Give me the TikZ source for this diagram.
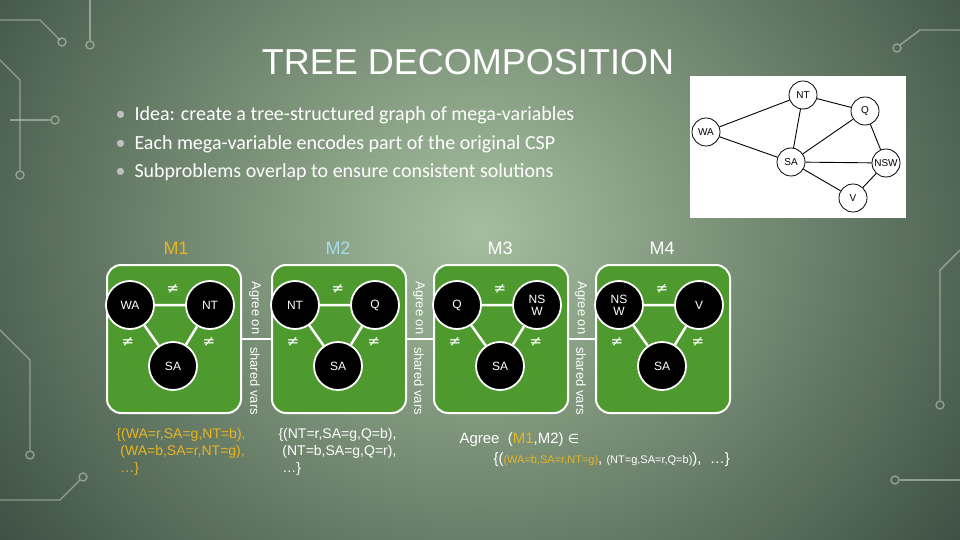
\documentclass[tikz,border=0pt]{standalone}
\usepackage{fontspec}
\setmainfont{Liberation Sans}
\newfontfamily\carlitof{Carlito}
\newfontfamily\dejavuf{DejaVu Sans}
\usetikzlibrary{shadings}
\definecolor{boxg}{HTML}{4E9A2E}
\definecolor{mone}{HTML}{E8B422}
\definecolor{mtwo}{HTML}{A8DCEC}
\tikzset{
 mbox/.style={draw=white,line width=2pt,fill=boxg,rounded corners=14pt},
 var/.style={circle,draw=white,line width=1.8pt,fill=black,minimum size=48pt,inner sep=0pt,text=white,font=\fontsize{12}{12}\selectfont,align=center},
 cedge/.style={white,line width=2.5pt},
 neq/.style={text=white,font=\dejavuf\fontsize{15}{15}\selectfont},
 vlab/.style={text=white,rotate=-90,font=\fontsize{13}{13}\selectfont},
 mlab/.style={font=\fontsize{18}{18}\selectfont},
 bul/.style={anchor=west,text=white,font=\carlitof\fontsize{20}{20}\selectfont},
 gnode/.style={circle,draw=black,line width=0.8pt,fill=white,minimum size=28pt,inner sep=0pt,font=\fontsize{10}{10}\selectfont},
 gedge/.style={black,line width=0.9pt},
}
\begin{document}
\begin{tikzpicture}[x=1pt,y=-1pt]
\useasboundingbox (0,0) rectangle (960,540);
\begin{scope}
\clip (0,0) rectangle (960,540);
\shade[inner color={rgb,255:red,165;green,190;blue,158},outer color={rgb,255:red,38;green,56;blue,46}] (-250,-420) rectangle (1210,880);
\begin{scope}[draw={rgb,255:red,200;green,212;blue,195},line width=1.4pt,opacity=0.55]
\draw (0,20) -- (40,20) -- (60,40); \draw (62,42) circle (4);
\draw (0,60) -- (20,80) -- (20,170); \draw (20,175) circle (4);
\draw (10,120) -- (50,120); \draw (55,120) circle (4);
\draw (0,330) -- (30,360) -- (30,450); \draw (30,455) circle (4);
\draw (0,500) -- (60,500) -- (80,480); \draw (83,477) circle (4);
\draw (960,30) -- (920,30) -- (900,45); \draw (897,48) circle (4);
\draw (960,250) -- (940,270) -- (940,400); \draw (940,405) circle (4);
\draw (960,480) -- (900,480); \draw (895,480) circle (4);
\draw (90,0) -- (90,40); \draw (90,45) circle (4);
\end{scope}
\end{scope}
% title
\node[text=white,font=\fontsize{36}{36}\selectfont] (title) at (468,62) {TREE DECOMPOSITION};
\node[bul] (b1) at (112,115) {{\color{white!75!black}\textbullet}\ \ Idea: create a tree-structured graph of mega-variables};
\node[bul] (b2) at (112,144) {{\color{white!75!black}\textbullet}\ \ Each mega-variable encodes part of the original CSP};
\node[bul] (b3) at (112,172) {{\color{white!75!black}\textbullet}\ \ Subproblems overlap to ensure consistent solutions};
% map graph
\node[fill=white,minimum width=216pt,minimum height=142pt,inner sep=0pt] (map) at (798,147) {};
\node[gnode] (gNT) at (803,95) {NT};
\node[gnode] (gQ) at (865,111) {Q};
\node[gnode] (gWA) at (706,132) {WA};
\node[gnode] (gSA) at (791,162) {SA};
\node[gnode] (gNSW) at (886,163) {NSW};
\node[gnode] (gV) at (853,198) {V};
\draw[gedge] (gWA)--(gNT) (gWA)--(gSA) (gNT)--(gSA) (gNT)--(gQ) (gQ)--(gSA) (gQ)--(gNSW) (gSA)--(gNSW) (gSA)--(gV) (gNSW)--(gV);
% boxes
\foreach \i/\x in {1/107,2/272,3/434,4/596}{
  \draw[mbox] (\x,265) rectangle ++(134,148);
  \coordinate (L\i) at (\x,339);
  \coordinate (R\i) at (\x+134,339);
}
\draw[white,line width=2.5pt] (R1)--(L2) (R2)--(L3) (R3)--(L4);
\foreach \x in {255,419,581}{
 \node[vlab] at (\x,308) {Agree on};
 \node[vlab] at (\x,381) {shared vars};
}
\node[mlab,text=mone] (m1) at (176,248) {M1};
\node[mlab,text=mtwo] (m2) at (338,248) {M2};
\node[mlab,text=white] (m3) at (500,248) {M3};
\node[mlab,text=white] (m4) at (662,248) {M4};
% triangles
\foreach \i/\x/\a/\b in {1/107/WA/NT,2/272/NT/Q,3/434/Q/NS\\W,4/596/NS\\W/V}{
 \node[var] (A\i) at (\x+23,305) {\a};
 \node[var] (B\i) at (\x+103,305) {\b};
 \node[var] (C\i) at (\x+66,366) {SA};
 \draw[cedge] (A\i)--(B\i) (A\i)--(C\i) (B\i)--(C\i);
 \node[neq] at (\x+66,289) {≠};
 \node[neq] at (\x+21,342) {≠};
 \node[neq] at (\x+102,342) {≠};
}
% solutions
\node[anchor=north west,text=mone,align=left,font=\fontsize{14}{17}\selectfont] (s1) at (113,425) {\{(WA=r,SA=g,NT=b),\\\ (WA=b,SA=r,NT=g),\\\ \ldots\}};
\node[anchor=north west,text=white,align=left,font=\fontsize{14}{17}\selectfont] (s2) at (275,425) {\{(NT=r,SA=g,Q=b),\\\ (NT=b,SA=g,Q=r),\\\ \ldots\}};
\node[anchor=west,text=white,font=\fontsize{15}{15}\selectfont] (ag) at (456,440) {Agree\ \ (\textcolor{mone}{M1},M2) {\dejavuf\fontsize{13}{13}\selectfont∈}};
\node[anchor=west,text=white,font=\fontsize{15}{15}\selectfont] (ag2) at (490,460) {\{(\textcolor{mone}{\fontsize{11}{11}\selectfont(WA=b,SA=r,NT=g)}, {\fontsize{11}{11}\selectfont(NT=g,SA=r,Q=b)}),\ \ \ldots\}};
\end{tikzpicture}
\end{document}
